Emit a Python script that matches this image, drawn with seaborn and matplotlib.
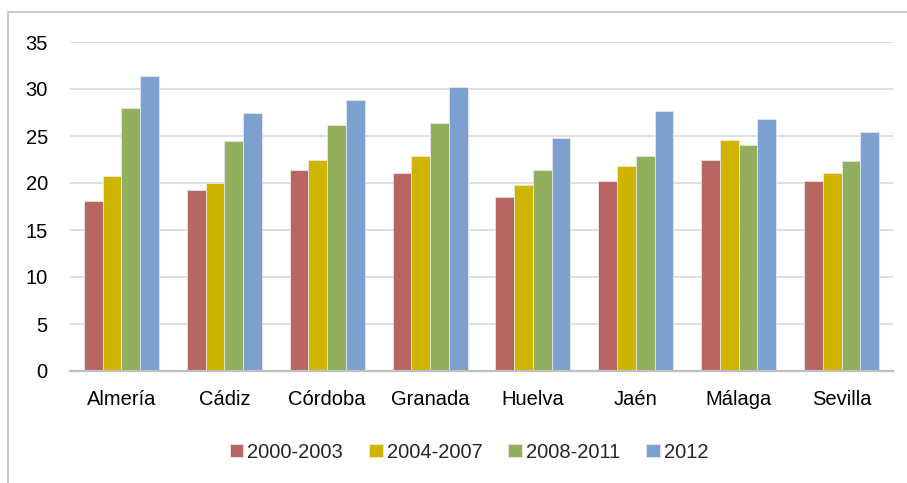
import matplotlib
matplotlib.use("Agg")
import matplotlib.pyplot as plt
import pandas as pd
import seaborn as sns
from matplotlib.patches import Rectangle

provincias = ["Almería", "Cádiz", "Córdoba", "Granada", "Huelva", "Jaén", "Málaga", "Sevilla"]
periodos = ["2000-2003", "2004-2007", "2008-2011", "2012"]
v_2000_2003 = [18.1, 19.3, 21.4, 21.1, 18.5, 20.2, 22.5, 20.2]
v_2004_2007 = [20.7, 20.0, 22.4, 22.9, 19.8, 21.8, 24.6, 21.1]
v_2008_2011 = [28.0, 24.5, 26.2, 26.4, 21.4, 22.9, 24.0, 22.3]
v_2012 = [31.4, 27.5, 28.8, 30.2, 24.8, 27.7, 26.8, 25.4]
colores = ["#B76664", "#CFB400", "#91AF5C", "#7DA1CF"]

series = [v_2000_2003, v_2004_2007, v_2008_2011, v_2012]
df = pd.DataFrame(
    [(prov, per, val) for per, vals in zip(periodos, series) for prov, val in zip(provincias, vals)],
    columns=["provincia", "periodo", "valor"],
)

sns.set_theme(style="white")
plt.rcParams["font.family"] = ["Liberation Sans", "DejaVu Sans"]

fig = plt.figure(figsize=(9.07, 4.83), dpi=100)
ax = fig.add_axes([70 / 907, 1 - 371 / 483, 823 / 907, 329 / 483])

sns.barplot(data=df, x="provincia", y="valor", hue="periodo", palette=colores, saturation=1,
            width=0.73, edgecolor="#EEEEEE", linewidth=0.5, ax=ax, errorbar=None)

ax.set_ylim(0, 35)
ax.set_yticks(range(0, 36, 5))
ax.grid(axis="y", color="#D9D9D9", linewidth=1.2)
ax.set_axisbelow(True)
for s in ["top", "right", "left"]:
    ax.spines[s].set_visible(False)
ax.spines["bottom"].set_color("#BFBFBF")
ax.spines["bottom"].set_linewidth(1.6)
ax.tick_params(axis="y", length=0, pad=16, labelsize=14.5, labelcolor="black")
ax.tick_params(axis="x", length=0, pad=14, labelsize=14.5, labelcolor="black")
ax.set_xlabel(None)
ax.set_ylabel(None)

ax.legend(loc="center", bbox_to_anchor=(469 / 907, 1 - 452 / 483), bbox_transform=fig.transFigure,
          ncol=4, frameon=False, fontsize=14.5, handlelength=0.67, handleheight=0.67,
          handletextpad=0.2, columnspacing=1.3, borderpad=0)

# marco del gráfico
fig.patches.append(Rectangle((8 / 907, -0.1), 1.2, 1 - 12 / 483 + 0.1, transform=fig.transFigure,
                             fill=False, edgecolor="#BFBFBF", linewidth=1.2))

fig.savefig("out.png", dpi=100)
